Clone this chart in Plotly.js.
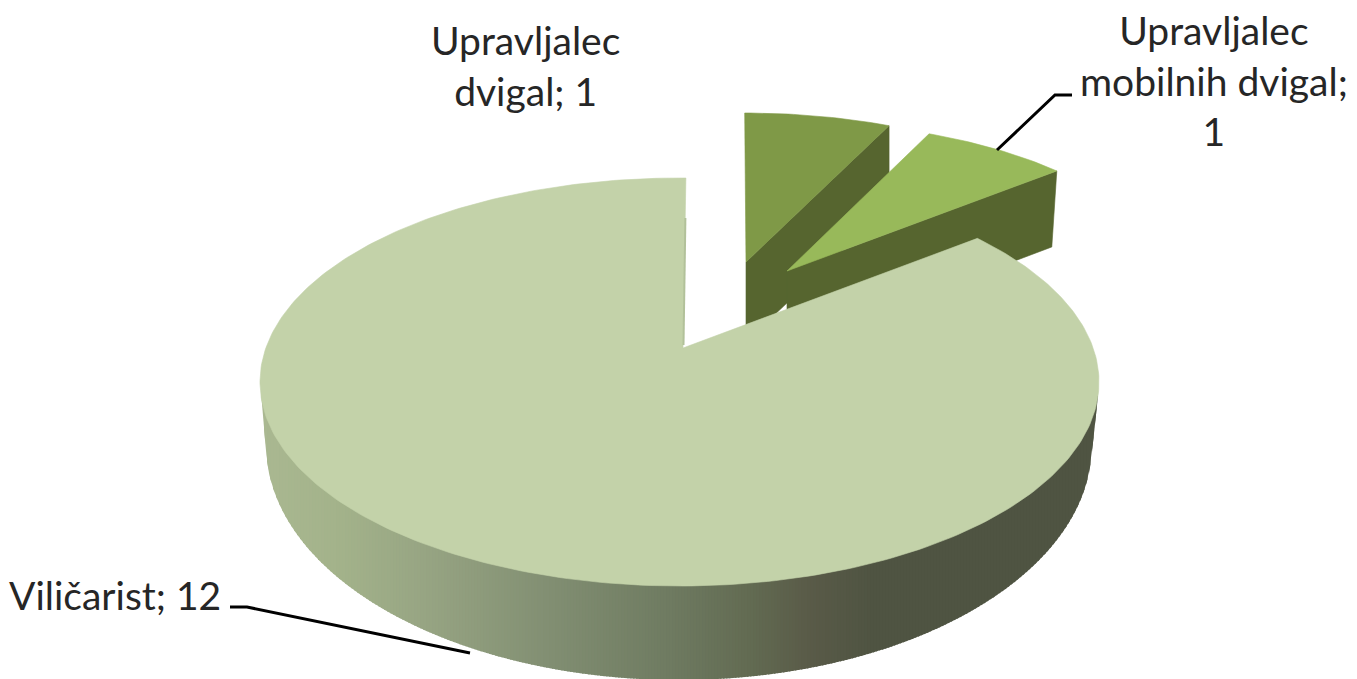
<!DOCTYPE html>
<html>
<head>
<meta charset="utf-8">
<script src="https://cdn.plot.ly/plotly-3.0.1.min.js"></script>
<style>html,body{margin:0;padding:0;background:#fff}#chart{width:1357px;height:679px}</style>
</head>
<body>
<div id="chart"></div>
<script>
// --- data ---
const categories = ["Viličarist", "Upravljalec dvigal", "Upravljalec mobilnih dvigal"];
const values = [12, 1, 1];
const labelTexts = ["Viličarist; 12", "Upravljalec<br>dvigal; 1", "Upravljalec<br>mobilnih dvigal;<br>1"];

// --- styling ---
const topColors = ["#C3D2A9", "#7F9947", "#98B95A"];
const sideColor = "#56652F";
const innerEdgeColor = "#B2C19A";
const rampX = [260, 342, 423, 546, 668, 750, 811, 872, 1100];
const rampRGB = [[170,184,145],[163,178,138],[151,165,131],[130,143,115],[111,123,97],[98,107,82],[89,90,72],[79,84,66],[79,84,66]];

// Geometry of the projected discs (apex, rim ellipse, depth), in pixels of the page scale
const total = values.reduce((a, b) => a + b, 0);
const discs = [
  {ax: 683, ay: 348, cx: 679.5, cy: 382, rx: 419.5, ry: 204, lean: 0.008, tilt: 0.47, depth: 80},
  {ax: 746, ay: 262, cx: 745, cy: 283, rx: 380, ry: 170, lean: -0.004, tilt: 0.455, depth: 80},
  {ax: 787, ay: 271, cx: 790, cy: 292, rx: 380, ry: 170, lean: 0, tilt: 0.465, depth: 76}
];
const mainBase = {cx: 679, cy: 445, rx: 413, ry: 235};

// slices run clockwise from 12 o'clock: small ones first, then the main slice
const order = [1, 2, 0];
const spans = {};
let cumulative = 0;
order.forEach(i => {
  const a0 = cumulative / total * 2 * Math.PI;
  cumulative += values[i];
  spans[i] = [a0, cumulative / total * 2 * Math.PI];
});

function rimPoint(d, theta) {
  const dx = Math.sin(theta) + d.lean * Math.cos(theta);
  const dy = -d.tilt * Math.cos(theta);
  const ox = (d.ax - d.cx) / d.rx, oy = (d.ay - d.cy) / d.ry;
  const ux = dx / d.rx, uy = dy / d.ry;
  const A = ux * ux + uy * uy, B = 2 * (ox * ux + oy * uy), C = ox * ox + oy * oy - 1;
  const t = (-B + Math.sqrt(B * B - 4 * A * C)) / (2 * A);
  return [d.ax + t * dx, d.ay + t * dy];
}

function topPolygon(i) {
  const d = discs[i], [a0, a1] = spans[i];
  const xs = [d.ax], ys = [d.ay];
  const n = Math.max(12, Math.round((a1 - a0) * 60));
  for (let k = 0; k <= n; k++) {
    const p = rimPoint(d, a0 + (a1 - a0) * k / n);
    xs.push(p[0]); ys.push(p[1]);
  }
  xs.push(d.ax); ys.push(d.ay);
  return {xs, ys};
}

function poly(xs, ys, color, lw) {
  return {type: "scatter", mode: "lines", x: xs, y: ys, fill: "toself", fillcolor: color,
          line: {color: color, width: lw === undefined ? 0.6 : lw}, hoverinfo: "skip", showlegend: false};
}

function rampColor(x) {
  let j = 0;
  while (j < rampX.length - 2 && x > rampX[j + 1]) j++;
  const f = Math.min(1, Math.max(0, (x - rampX[j]) / (rampX[j + 1] - rampX[j])));
  const c = rampRGB[j].map((v, q) => Math.round(v + (rampRGB[j + 1][q] - v) * f));
  return `rgb(${c[0]},${c[1]},${c[2]})`;
}

const traces = [];

// exploded slices: radial side face then top
[1, 2].forEach(i => {
  const d = discs[i], end = rimPoint(d, spans[i][1]);
  const shrink = i === 2 ? 5 : 0;
  traces.push(poly(
    [d.ax, end[0], end[0] - shrink, d.ax, d.ax],
    [d.ay, end[1], end[1] + d.depth, d.ay + d.depth, d.ay], sideColor));
  const t = topPolygon(i);
  traces.push(poly(t.xs, t.ys, topColors[i]));
});

// main slice: rim wall as vertical gradient strips, then top
const m = discs[0];
const phi0 = 4 * Math.PI / 180, phi1 = 176 * Math.PI / 180;
const outline = [];
outline.push([m.cx + m.rx * Math.cos(phi1), m.cy + m.ry * Math.sin(phi1)]);
for (let k = 0; k <= 240; k++) {
  const p = phi1 + (phi0 - phi1) * k / 240;
  outline.push([mainBase.cx + mainBase.rx * Math.cos(p), mainBase.cy + mainBase.ry * Math.sin(p)]);
}
outline.push([m.cx + m.rx * Math.cos(phi0), m.cy + m.ry * Math.sin(phi0)]);
function lowerEdge(x) {
  for (let k = 0; k < outline.length - 1; k++) {
    const a = outline[k], b = outline[k + 1];
    if (x >= a[0] && x <= b[0]) return a[1] + (b[1] - a[1]) * (x - a[0]) / Math.max(b[0] - a[0], 1e-6);
  }
  // between the last chord and its end, where the wall leans back inward
  return x < 680 ? outline[0][1] : outline[outline.length - 1][1];
}
function upperEdge(x) {
  const u = (x - m.cx) / m.rx;
  return m.cy + m.ry * Math.sqrt(Math.max(0, 1 - u * u)) - 4;
}
const wallLeft = outline[0][0], wallRight = outline[outline.length - 1][0];
const stripStep = 3;
for (let x = wallLeft; x < wallRight; x += stripStep) {
  const x1 = Math.min(wallRight, x + stripStep + 1.5);
  const samples = [x, (x + x1) / 2, x1];
  const xs = samples.concat(samples.slice().reverse(), [x]);
  const ys = samples.map(upperEdge).concat(samples.slice().reverse().map(lowerEdge), [upperEdge(x)]);
  traces.push(poly(xs, ys, rampColor(x + stripStep / 2), 0));
}
const mainTop = topPolygon(0);
traces.push(poly(mainTop.xs, mainTop.ys, topColors[0]));

// thin inner wall seen along the left cut of the main slice
const innerStart = rimPoint(m, spans[0][1]);
traces.push({type: "scatter", mode: "lines", x: [innerStart[0] - 0.5, m.ax + 0.5], y: [innerStart[1] + 40, m.ay - 3],
  line: {color: innerEdgeColor, width: 2}, hoverinfo: "skip", showlegend: false});

// leader lines
const leaderA = {x: [230, 247, 470], y: [607, 607, 653]};
const leaderB = {x: [1072, 1055, 997], y: [95, 95, 150]};
[leaderA, leaderB].forEach(l => traces.push({type: "scatter", mode: "lines", x: l.x, y: l.y,
  line: {color: "#000", width: 3}, hoverinfo: "skip", showlegend: false}));

const font = {family: "Lato, 'Open Sans', sans-serif", size: 39, color: "#262626"};
const annotations = [
  {x: 115, y: 595, text: labelTexts[0]},
  {x: 525, y: 65, text: labelTexts[1]},
  {x: 1214, y: 80, text: labelTexts[2]}
].map(a => Object.assign(a, {xref: "x", yref: "y", showarrow: false, font, align: "center", xanchor: "center", yanchor: "middle"}));

Plotly.newPlot("chart", traces, {
  width: 1357, height: 679,
  margin: {l: 0, r: 0, t: 0, b: 0},
  paper_bgcolor: "#fff", plot_bgcolor: "#fff",
  xaxis: {range: [0, 1357], visible: false, fixedrange: true},
  yaxis: {range: [679, 0], visible: false, fixedrange: true},
  showlegend: false,
  annotations
}, {displayModeBar: false, staticPlot: true});
</script>
</body>
</html>
